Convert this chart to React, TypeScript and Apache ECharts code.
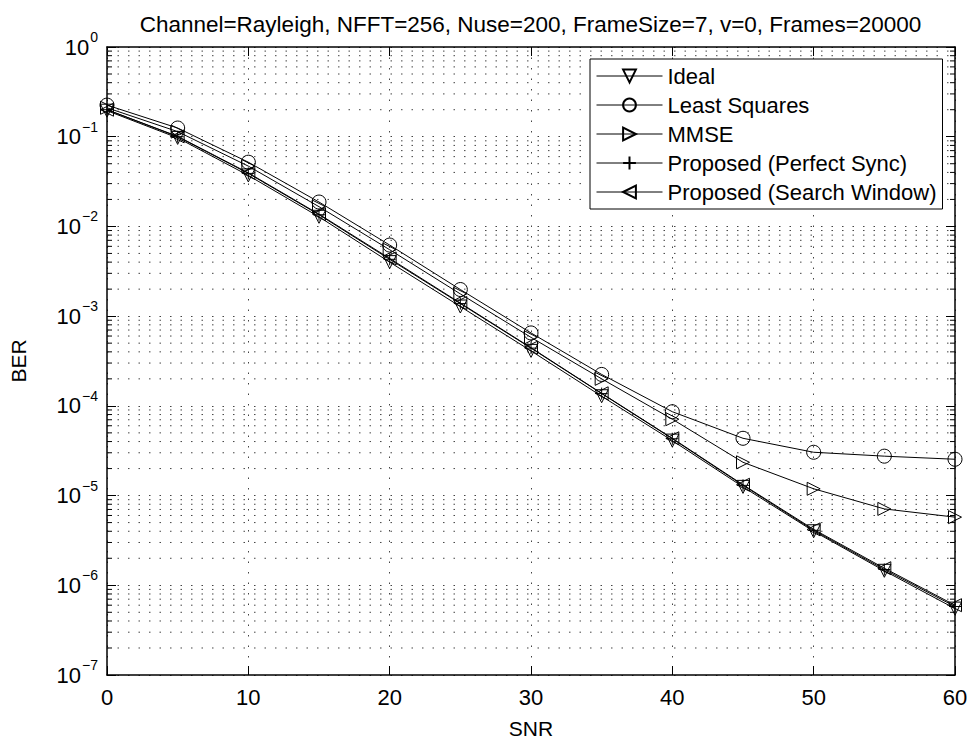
import React, { useEffect, useRef } from "react";
import * as echarts from "echarts";

const snr = [0, 5, 10, 15, 20, 25, 30, 35, 40, 45, 50, 55, 60];
const berLS = [0.225, 0.125, 0.052, 0.0187, 0.0062, 0.00198, 0.00065, 0.000224, 8.6e-5, 4.35e-5, 3.04e-5, 2.75e-5, 2.54e-5];
const berMMSE = [0.21, 0.114, 0.047, 0.0166, 0.0055, 0.00177, 0.00058, 0.0002, 7.1e-5, 2.35e-5, 1.19e-5, 7.1e-6, 5.75e-6];
const berIdeal = [0.195, 0.097, 0.037, 0.0128, 0.004, 0.00128, 0.00041, 0.000128, 4.1e-5, 1.25e-5, 4.0e-6, 1.45e-6, 5.5e-7];
const berPerfect = [0.2, 0.1, 0.039, 0.0135, 0.0043, 0.00138, 0.00044, 0.000137, 4.3e-5, 1.3e-5, 4.1e-6, 1.5e-6, 5.8e-7];
const berSearch = [0.2, 0.101, 0.0395, 0.0137, 0.0044, 0.0014, 0.000445, 0.000138, 4.35e-5, 1.32e-5, 4.2e-6, 1.55e-6, 6.0e-7];

const seriesNames = ["Ideal", "Least Squares", "MMSE", "Proposed (Perfect Sync)", "Proposed (Search Window)"];
const titleText = "Channel=Rayleigh, NFFT=256, Nuse=200, FrameSize=7, v=0, Frames=20000";
const xTicks = { min: 0, max: 60, interval: 10 };
const yDecades = { minExp: -7, maxExp: 0 };

const FONT = "'Liberation Sans', Arial, Helvetica, sans-serif";

export default function App() {
  const ref = useRef<HTMLDivElement>(null);
  useEffect(() => {
    document.body.style.margin = "0";
    if (!ref.current) return;
    const chart = echarts.init(ref.current, null, { renderer: "svg" });

    const minorVals: number[] = [];
    for (let e = yDecades.minExp; e < yDecades.maxExp; e++) {
      for (let m = 2; m <= 9; m++) minorVals.push(m * Math.pow(10, e));
    }

    const dotted = { color: "#444", width: 1, type: [1.5, 9] as any };

    const mk = (name: string, data: number[], symbol: string, rotate: number, size: number) => ({
      name,
      type: "line",
      data: snr.map((x, i) => [x, data[i]]),
      symbol,
      symbolRotate: rotate,
      symbolSize: size,
      showAllSymbol: true,
      lineStyle: { color: "#000", width: 1 },
      itemStyle: { color: "transparent", borderColor: "#000", borderWidth: 1 },
      z: 5,
    });

    const option: any = {
      animation: false,
      backgroundColor: "#fff",
      textStyle: { fontFamily: FONT },
      title: {
        text: titleText,
        left: 525.5,
        top: 8,
        textAlign: "center",
        textStyle: { fontFamily: FONT, fontSize: 22.5, fontWeight: "normal", color: "#000" },
      },
      grid: { left: 96, right: 17, top: 47, bottom: 66, containLabel: false },
      legend: {
        orient: "vertical",
        left: 590,
        top: 59,
        data: seriesNames,
        itemWidth: 66,
        itemHeight: 16,
        itemGap: 7,
        padding: [6, 6, 6, 6],
        backgroundColor: "#fff",
        borderColor: "#000",
        borderWidth: 1,
        lineStyle: { width: 1, color: "#000" },
        textStyle: { fontFamily: FONT, fontSize: 22, lineHeight: 22, color: "#000" },
        z: 10,
      },
      xAxis: [
        {
          type: "value",
          min: xTicks.min,
          max: xTicks.max,
          interval: xTicks.interval,
          name: "SNR",
          nameLocation: "middle",
          nameGap: 43,
          nameTextStyle: { fontFamily: FONT, fontSize: 21, color: "#000" },
          axisLine: { show: true, onZero: false, lineStyle: { color: "#000", width: 1.5 } },
          axisTick: { show: true, inside: true, length: 9, lineStyle: { color: "#000", width: 1 } },
          axisLabel: { fontFamily: FONT, fontSize: 22, color: "#000", margin: 11 },
          splitLine: { show: true, lineStyle: dotted },
        },
        {
          type: "value",
          position: "top",
          min: xTicks.min,
          max: xTicks.max,
          interval: xTicks.interval,
          axisLine: { show: true, onZero: false, lineStyle: { color: "#000", width: 1.5 } },
          axisTick: { show: true, inside: true, length: 9, lineStyle: { color: "#000", width: 1 } },
          axisLabel: { show: false },
          splitLine: { show: false },
        },
      ],
      yAxis: [
        {
          type: "log",
          logBase: 10,
          min: Math.pow(10, yDecades.minExp),
          max: Math.pow(10, yDecades.maxExp),
          interval: 1,
          name: "BER",
          nameLocation: "middle",
          nameGap: 78,
          nameTextStyle: { fontFamily: FONT, fontSize: 21, color: "#000" },
          axisLine: { show: true, onZero: false, lineStyle: { color: "#000", width: 1.5 } },
          axisTick: { show: true, inside: true, length: 9, lineStyle: { color: "#000", width: 1 } },
          axisLabel: {
            margin: 9,
            formatter: (v: number) => {
              const e = Math.round(Math.log10(v));
              const s = e < 0 ? "\u2212" + Math.abs(e) : String(e);
              return "{b|10}{s|" + s + "}";
            },
            rich: {
              b: { fontFamily: FONT, fontSize: 22, color: "#000" },
              s: { fontFamily: FONT, fontSize: 14, color: "#000", padding: [0, 0, 20, 1] },
            },
          },
          splitLine: { show: true, lineStyle: dotted },
        },
        {
          type: "log",
          logBase: 10,
          position: "right",
          min: Math.pow(10, yDecades.minExp),
          max: Math.pow(10, yDecades.maxExp),
          interval: 1,
          axisLine: { show: true, onZero: false, lineStyle: { color: "#000", width: 1.5 } },
          axisTick: { show: true, inside: true, length: 9, lineStyle: { color: "#000", width: 1 } },
          axisLabel: { show: false },
          splitLine: { show: false },
        },
      ],
      series: [
        {
          name: "minorGrid",
          type: "custom",
          silent: true,
          z: 1,
          data: minorVals.map((v) => [0, v]),
          renderItem: (params: any, api: any) => {
            const cs = params.coordSys;
            const y = api.coord([0, api.value(1)])[1];
            return {
              type: "group",
              children: [
                {
                  type: "line",
                  shape: { x1: cs.x, y1: y, x2: cs.x + cs.width, y2: y },
                  style: { stroke: "#444", lineWidth: 1, lineDash: [1.5, 9] },
                },
                {
                  type: "line",
                  shape: { x1: cs.x, y1: y, x2: cs.x + 5, y2: y },
                  style: { stroke: "#000", lineWidth: 1 },
                },
                {
                  type: "line",
                  shape: { x1: cs.x + cs.width - 5, y1: y, x2: cs.x + cs.width, y2: y },
                  style: { stroke: "#000", lineWidth: 1 },
                },
              ],
            };
          },
        },
        mk("Ideal", berIdeal, "triangle", 180, 13),
        mk("Least Squares", berLS, "circle", 0, 14),
        mk("MMSE", berMMSE, "triangle", -90, 13),
        mk("Proposed (Perfect Sync)", berPerfect, "path://M5,0 L5,10 M0,5 L10,5", 0, 12),
        mk("Proposed (Search Window)", berSearch, "triangle", 90, 13),
      ],
    };
    chart.setOption(option);
    return () => chart.dispose();
  }, []);
  return <div ref={ref} style={{ width: 972, height: 744 }} />;
}
